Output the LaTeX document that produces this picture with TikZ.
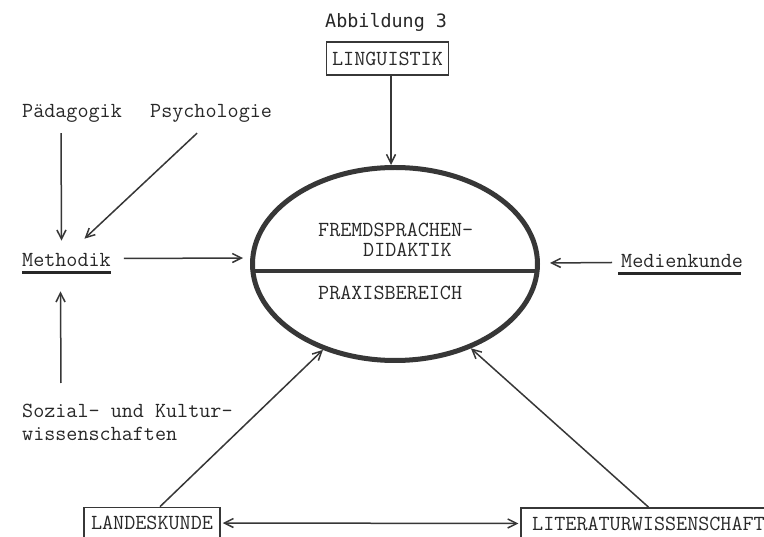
\documentclass[tikz,border=0pt]{standalone}
\usepackage{fontspec}
\newfontfamily\abbfont{DejaVu Sans Mono}
\usetikzlibrary{arrows.meta,shapes.geometric,calc}

\definecolor{ink}{RGB}{40,40,40}
\definecolor{rule}{RGB}{55,55,55}

\tikzset{
  tw/.style={font=\ttfamily\addfontfeature{FakeBold=0.7}\fontsize{21.5}{23}\selectfont,
    text=ink, inner sep=0pt},
  label/.style={tw, anchor=base west},
  framed/.style={tw, draw=rule, line width=1.7pt, minimum height=31pt,
    text height=13.1pt, text depth=0pt},
  arr/.style={draw=rule, line width=1.5pt, -{Straight Barb[length=9pt,width=9pt,line width=1.5pt]}},
  dblarr/.style={draw=rule, line width=1.5pt,
    {Straight Barb[length=9pt,width=9pt,line width=1.5pt]}-{Straight Barb[length=9pt,width=9pt,line width=1.5pt]}},
  uline/.style={draw=ink, line width=3pt},
}

\begin{document}
\begin{tikzpicture}[x=1pt, y=-1pt]
  \useasboundingbox[fill=white] (0,0) rectangle (764,537);

  % title
  \node[anchor=base west, inner sep=0pt, text=ink,
        font=\abbfont\fontsize{18.4}{20}\selectfont] (T) at (325,28) {Abbildung 3};

  % central ellipse with its dividing bar
  \node[ellipse, draw=rule, line width=5pt, minimum width=285pt, minimum height=193pt,
        inner sep=0pt, outer sep=2.5pt] (E) at (395,264) {};
  \draw[rule, line width=4.5pt] ($(E.center)+(-142,7)$) -- ($(E.center)+(142,7)$);
  \node[label] (FR) at (318,236.5) {FREMDSPRACHEN-};
  \node[label] (DI) at (363,256.5) {DIDAKTIK};
  \node[label] (PR) at (318,299.5) {PRAXISBEREICH};

  % framed disciplines
  \node[framed, inner xsep=5.5pt, minimum height=33pt] (LI) at (387.5,58.5) {LINGUISTIK};
  \node[framed, inner xsep=7pt] (LA) at (152,523) {LANDESKUNDE};
  \node[framed, inner xsep=11pt] (LW) at (648.5,523.5) {LITERATURWISSENSCHAFT};

  % free labels
  \node[label] (P)  at (22,118)  {Pädagogik};
  \node[label] (PS) at (150,118) {Psychologie};
  \node[label] (M)  at (22,267)  {Methodik};
  \node[label] (MK) at (621,268) {Medienkunde};
  \node[tw, anchor=north west, align=left] (S) at (22,404)
        {Sozial- und Kultur-\\wissenschaften};

  % underlines
  \draw[uline] ($(M.south west)+(0,5)$) -- ($(M.south east)+(0,5)$);
  \draw[uline] ($(MK.south west)+(-3,5)$) -- ($(MK.south east)+(-2,5)$);

  % connectors
  \draw[arr] ($(LI.south)+(3.5,0)$) -- ($(E.north)+(-4,0)$);
  \draw[arr] ($(P.south)+(-11,10)$) -- ($(M.north)+(-5,-13)$);
  \draw[arr] ($(PS.south)+(-14,10)$) -- ($(M.north)+(18,-15)$);
  \draw[arr] ($(S.north west)+(39,-21)$) -- ($(M.south)+(-6,24)$);
  \draw[arr] ($(M.east)+(13,-2)$) -- ($(E.west)+(-7,-6)$);
  \draw[arr] ($(MK.west)+(-9,1)$) -- ($(E.east)+(10,-1)$);
  \draw[arr] ($(LA.north)+(8,0)$) -- (E.230.6);
  \draw[arr] (LW.north) -- (E.312);
  \draw[dblarr, shorten <=2pt, shorten >=2pt] (LA.east) -- (LW.west);
\end{tikzpicture}
\end{document}
